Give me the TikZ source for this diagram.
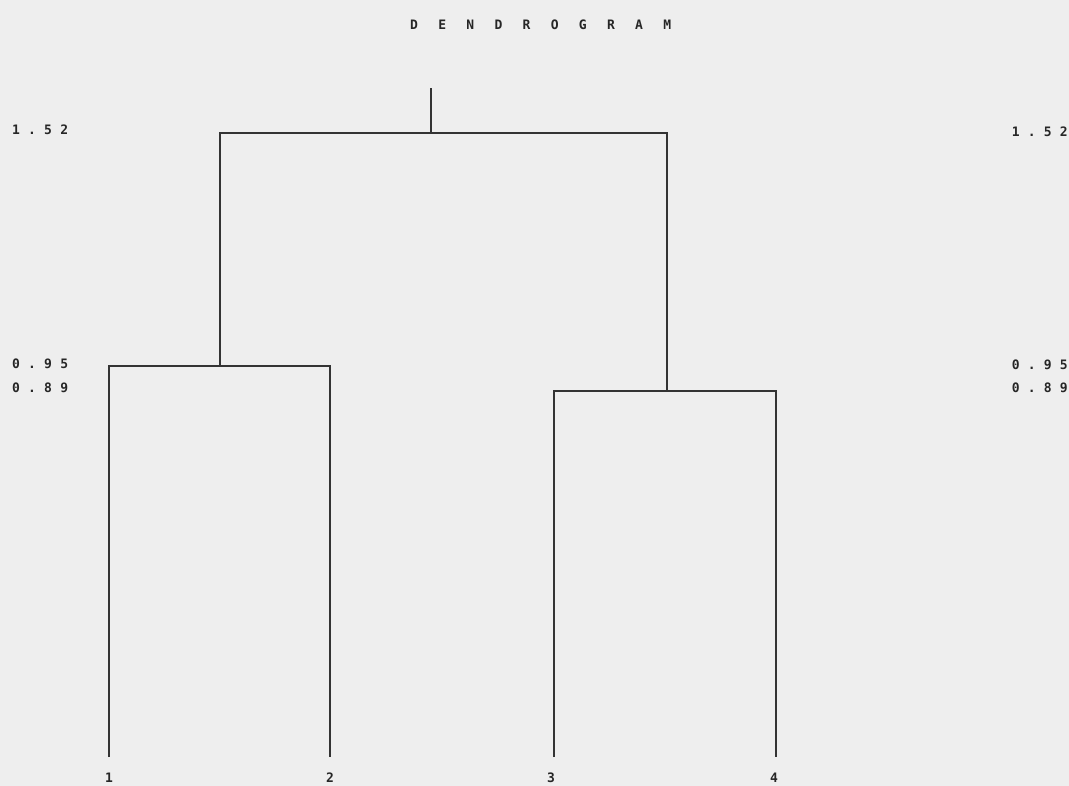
\documentclass[tikz,border=0pt]{standalone}
\usepackage{fontspec}
\newfontfamily\lblfont{DejaVu Sans Mono Bold}
\newcommand{\gs}{\hspace{8.2pt}}
\newcommand{\ts}{\hspace{20.3pt}}
\begin{document}
\begin{tikzpicture}[x=1pt,y=-1pt,
  lbl/.style={font=\lblfont\fontsize{13}{13}\selectfont, text=black!85, inner sep=0pt},
  link/.style={draw=black!80, line width=1.1pt}]
\fill[gray!13] (0,0) rectangle (1069,786);
\useasboundingbox (0,0) rectangle (1069,786);
% title
\node[lbl, anchor=west] (title) at (410,25) {D\ts E\ts N\ts D\ts R\ts O\ts G\ts R\ts A\ts M};
% scale labels
\node[lbl, anchor=west] (l152) at (12,130) {1\gs.\gs5\gs2};
\node[lbl, anchor=west] (l095) at (12,364) {0\gs.\gs9\gs5};
\node[lbl, anchor=west] (l089) at (12,388) {0\gs.\gs8\gs9};
\node[lbl, anchor=east] (r152) at (1068,132) {1\gs.\gs5\gs2};
\node[lbl, anchor=east] (r095) at (1068,365) {0\gs.\gs9\gs5};
\node[lbl, anchor=east] (r089) at (1068,388) {0\gs.\gs8\gs9};
% leaves
\node[lbl] (n1) at (109,778) {1};
\node[lbl] (n2) at (330,778) {2};
\node[lbl] (n3) at (551,778) {3};
\node[lbl] (n4) at (774,778) {4};
\coordinate (e1) at (109,757);
\coordinate (e2) at (330,757);
\coordinate (e3) at (554,757);
\coordinate (e4) at (776,757);
\coordinate (m12) at (220,366);
\coordinate (m34) at (667,391);
\coordinate (top) at (431,133);
\coordinate (root) at (431,88);
\draw[link] (e1) |- (m12) -| (e2);
\draw[link] (e3) |- (m34) -| (e4);
\draw[link] (m12) |- (top) -| (m34);
\draw[link] (top) -- (root);
\end{tikzpicture}
\end{document}
